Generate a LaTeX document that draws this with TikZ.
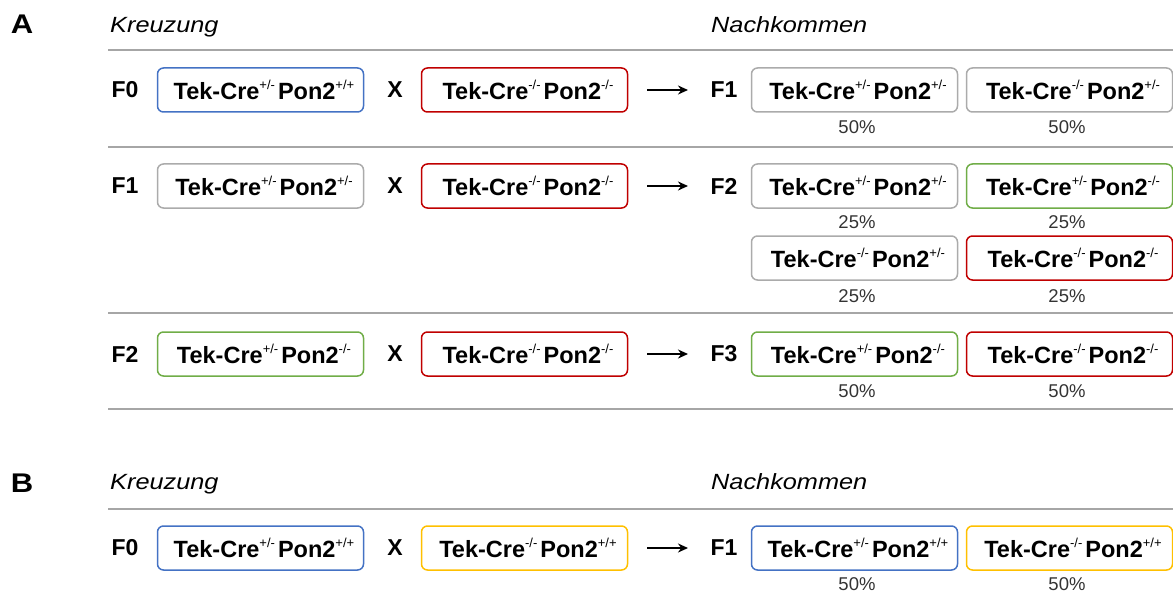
\documentclass[tikz,border=0pt]{standalone}
\usepackage{fontspec}
\setmainfont{Liberation Sans}
\newfontfamily\widefont[FakeStretch=1.15]{Liberation Sans}
\usetikzlibrary{arrows.meta}
\definecolor{cblue}{HTML}{4472C4}
\definecolor{cred}{HTML}{C00000}
\definecolor{cgray}{HTML}{ABABAB}
\definecolor{cgreen}{HTML}{70AD47}
\definecolor{cyellow}{HTML}{FFC000}
\definecolor{cline}{HTML}{A6A6A6}
\definecolor{ctext}{HTML}{333333}
\newcommand{\gsup}[1]{\raisebox{0.45em}{\fontsize{13}{13}\selectfont\mdseries #1}}
\newcommand{\geno}[2]{\hspace*{7pt}Tek-Cre\gsup{#1}\hspace{3pt}Pon2\gsup{#2}}
\tikzset{
  geno/.style={draw=#1, line width=1.5pt, rounded corners=6pt, minimum width=206pt, minimum height=44pt, inner sep=0pt, font=\fontsize{23.5}{23.5}\selectfont\bfseries, fill=white},
  gen/.style={font=\fontsize{23}{23}\selectfont\bfseries, anchor=center},
  pct/.style={font=\fontsize{18.5}{18.5}\selectfont, text=ctext},
  hdr/.style={font=\widefont\fontsize{22}{22}\selectfont\itshape, anchor=base west, inner sep=0pt},
  panel/.style={font=\widefont\fontsize{27}{27}\selectfont\bfseries},
  sep/.style={draw=cline, line width=1.3pt},
  arr/.style={-{Stealth[length=10pt,width=9pt]}, line width=1.6pt}
}
\begin{document}
\begin{tikzpicture}[x=1pt,y=-1pt]
\useasboundingbox (0,0) rectangle (1173,599);
% Panel A
\node[panel] (A) at (22,24) {A};
\node[hdr] (kA) at (110,32.5) {Kreuzung};
\node[hdr] (nA) at (711,32.5) {Nachkommen};
\coordinate (l1a) at (108,50); \coordinate (l1b) at (1173,50);
\coordinate (l2a) at (108,147); \coordinate (l2b) at (1173,147);
\coordinate (l3a) at (108,313); \coordinate (l3b) at (1173,313);
\coordinate (l4a) at (108,409); \coordinate (l4b) at (1173,409);
\draw[sep] (l1a) -- (l1b);
\draw[sep] (l2a) -- (l2b);
\draw[sep] (l3a) -- (l3b);
\draw[sep] (l4a) -- (l4b);
% Row 1
\node[gen] (r1g) at (125,90) {F0};
\node[geno=cblue] (r1p1) at (260.5,90) {\geno{+/-}{+/+}};
\node[gen] (r1x) at (395,90) {X};
\node[geno=cred] (r1p2) at (524.5,90) {\geno{-/-}{-/-}};
\node[gen] (r1f) at (724,90) {F1};
\node[geno=cgray] (r1o1) at (854.5,90) {\geno{+/-}{+/-}};
\node[geno=cgray] (r1o2) at (1069.5,90) {\geno{-/-}{+/-}};
\node[pct] (r1c1) at (857,127) {50\%};
\node[pct] (r1c2) at (1067,127) {50\%};
\coordinate (r1s) at (647,90); \coordinate (r1e) at (688,90);
\draw[arr] (r1s) -- (r1e);
% Row 2
\node[gen] (r2g) at (125,186) {F1};
\node[geno=cgray] (r2p1) at (260.5,186) {\geno{+/-}{+/-}};
\node[gen] (r2x) at (395,186) {X};
\node[geno=cred] (r2p2) at (524.5,186) {\geno{-/-}{-/-}};
\node[gen] (r2f) at (724,186) {F2};
\node[geno=cgray] (r2o1) at (854.5,186) {\geno{+/-}{+/-}};
\node[geno=cgreen] (r2o2) at (1069.5,186) {\geno{+/-}{-/-}};
\node[pct] (r2c1) at (857,222) {25\%};
\node[pct] (r2c2) at (1067,222) {25\%};
\node[geno=cgray] (r2o3) at (854.5,258) {\geno{-/-}{+/-}};
\node[geno=cred] (r2o4) at (1069.5,258) {\geno{-/-}{-/-}};
\node[pct] (r2c3) at (857,296) {25\%};
\node[pct] (r2c4) at (1067,296) {25\%};
\coordinate (r2s) at (647,186); \coordinate (r2e) at (688,186);
\draw[arr] (r2s) -- (r2e);
% Row 3
\node[gen] (r3g) at (125,354) {F2};
\node[geno=cgreen] (r3p1) at (260.5,354) {\geno{+/-}{-/-}};
\node[gen] (r3x) at (395,354) {X};
\node[geno=cred] (r3p2) at (524.5,354) {\geno{-/-}{-/-}};
\node[gen] (r3f) at (724,354) {F3};
\node[geno=cgreen] (r3o1) at (854.5,354) {\geno{+/-}{-/-}};
\node[geno=cred] (r3o2) at (1069.5,354) {\geno{-/-}{-/-}};
\node[pct] (r3c1) at (857,391) {50\%};
\node[pct] (r3c2) at (1067,391) {50\%};
\coordinate (r3s) at (647,354); \coordinate (r3e) at (688,354);
\draw[arr] (r3s) -- (r3e);
% Panel B
\node[panel] (B) at (22,483) {B};
\node[hdr] (kB) at (110,489) {Kreuzung};
\node[hdr] (nB) at (711,489) {Nachkommen};
\coordinate (l5a) at (108,509); \coordinate (l5b) at (1173,509);
\draw[sep] (l5a) -- (l5b);
\node[gen] (r4g) at (125,548) {F0};
\node[geno=cblue] (r4p1) at (260.5,548) {\geno{+/-}{+/+}};
\node[gen] (r4x) at (395,548) {X};
\node[geno=cyellow] (r4p2) at (524.5,548) {\geno{-/-}{+/+}};
\node[gen] (r4f) at (724,548) {F1};
\node[geno=cblue] (r4o1) at (854.5,548) {\geno{+/-}{+/+}};
\node[geno=cyellow] (r4o2) at (1069.5,548) {\geno{-/-}{+/+}};
\node[pct] (r4c1) at (857,584) {50\%};
\node[pct] (r4c2) at (1067,584) {50\%};
\coordinate (r4s) at (647,548); \coordinate (r4e) at (688,548);
\draw[arr] (r4s) -- (r4e);
\end{tikzpicture}
\end{document}
